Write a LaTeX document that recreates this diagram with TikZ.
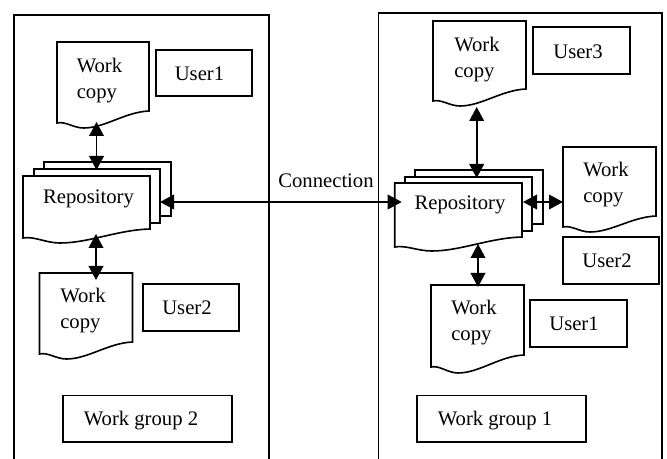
\documentclass[tikz,border=0pt]{standalone}
\usepackage{fontspec}
\setmainfont{Liberation Serif}
\usetikzlibrary{arrows.meta}
\tikzset{
  x=0.75pt,y=-0.75pt,
  line/.style={line width=1.2pt,draw=black},
  conn/.style={line width=1.2pt,draw=black,{Triangle[length=10.5pt,width=11pt]}-{Triangle[length=10.5pt,width=11pt]}},
  box/.style={line,fill=white,anchor=north west,inner sep=0pt,outer sep=0pt},
  anchorbox/.style={anchor=north west,inner sep=0pt,outer sep=0pt},
  lbl/.style={font=\fontsize{15.5pt}{19.5pt}\selectfont,align=left,inner sep=0pt,anchor=center}
}
% name, x, y, width, height to right foot, left foot height, lowest height
\newcommand{\docshape}[7]{%
  \node[anchorbox,minimum width=#4*0.75pt,minimum height=#7*0.75pt] (#1) at (#2,#3) {};
  \draw[line,fill=white,line join=miter] (#1.north west) -- (#1.north east) -- ([shift={(0,#5)}]#1.north east)
    .. controls ([shift={(-0.26*#4,#5+1)}]#1.north east) and ([shift={(0.52*#4,#7)}]#1.north west) .. ([shift={(0.29*#4,#7)}]#1.north west)
    .. controls ([shift={(0.18*#4,#7)}]#1.north west) and ([shift={(0.09*#4,#6-2)}]#1.north west) .. ([shift={(0,#6)}]#1.north west) -- cycle;
}
\newcommand{\rectbox}[5]{%
  \node[box,minimum width=#4*0.75pt,minimum height=#5*0.75pt] (#1) at (#2,#3) {};
}
\begin{document}
\begin{tikzpicture}
\useasboundingbox (0,0) rectangle (667,459);
\fill[white] (0,0) rectangle (667,459);
\clip (0,0) rectangle (667,459);
% work groups
\rectbox{groupB}{14}{15}{255}{470}
\rectbox{groupA}{378.5}{13}{283.5}{470}
% left side
\docshape{wcA}{57}{42}{92}{69}{81}{86}
\rectbox{userA}{156}{50}{96}{46}
\node[lbl] (wcAt) at (99.5,80.5) {Work\\copy};
\node[lbl] (userAt) at (199.5,74) {User1};
\rectbox{repoLc}{44}{162}{127}{54}
\rectbox{repoLb}{34}{169}{126}{54}
\docshape{repoL}{23}{176}{127}{53}{62}{67}
\node[lbl] (repoLt) at (88.5,199) {Repository};
\docshape{wcB}{39.5}{273}{93}{69}{81}{86}
\rectbox{userB}{143}{284}{96}{47}
\node[lbl] (wcBt) at (83,310.5) {Work\\copy};
\node[lbl] (userBt) at (187,307.5) {User2};
\rectbox{nameB}{63}{395.5}{169}{46.5}
\node[lbl] (nameBt) at (141,421) {Work group 2};
% right side
\docshape{wcC}{433}{21}{93}{68}{80}{85}
\rectbox{userC}{533}{27}{97}{47}
\node[lbl] (wcCt) at (477,59.5) {Work\\copy};
\node[lbl] (userCt) at (578,51.5) {User3};
\rectbox{repoRc}{415}{170}{128}{54}
\rectbox{repoRb}{405}{177}{127}{54}
\docshape{repoR}{394.7}{183}{127.3}{54}{64}{68}
\node[lbl] (repoRt) at (460,205) {Repository};
\docshape{wcD}{563}{147}{93}{69}{80}{85}
\rectbox{userD}{563}{237}{96}{47}
\node[lbl] (wcDt) at (606,184.5) {Work\\copy};
\node[lbl] (userDt) at (607,261) {User2};
\docshape{wcE}{431}{285}{93}{70}{82}{88}
\rectbox{userE}{530}{300}{97}{47}
\node[lbl] (wcEt) at (474,322.5) {Work\\copy};
\node[lbl] (userEt) at (574,324) {User1};
\rectbox{nameA}{417}{395.5}{169}{46.5}
\node[lbl] (nameAt) at (495,421) {Work group 1};
% connectors
\draw[conn] ([shift={(39.5,80)}]wcA.north west) -- ([shift={(73.5,-6)}]repoL.north west);
\draw[conn] ([shift={(73,58)}]repoL.north west) -- ([shift={(56.5,7)}]wcB.north west);
\draw[conn] ([shift={(10,26)}]repoL.north east) -- ([shift={(7,19)}]repoR.north west);
\draw[conn] ([shift={(43.7,86)}]wcC.north west) -- ([shift={(82,-5)}]repoR.north west);
\draw[conn] ([shift={(1,19)}]repoR.north east) -- ([shift={(0,55)}]wcD.north west);
\draw[conn] ([shift={(83.3,61)}]repoR.north west) -- ([shift={(47,2)}]wcE.north west);
\node[lbl] (conn) at (326,181) {Connection};
\end{tikzpicture}
\end{document}
